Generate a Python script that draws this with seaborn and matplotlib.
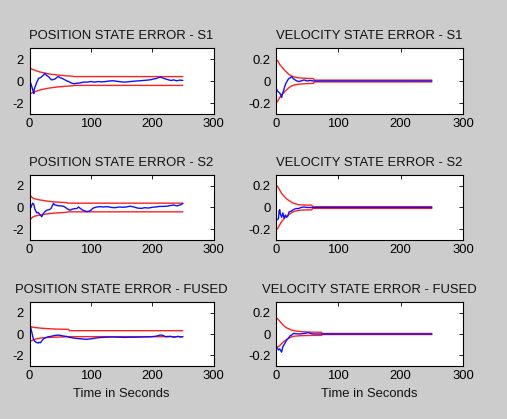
import numpy as np
import pandas as pd
import matplotlib
matplotlib.use("Agg")
import matplotlib.pyplot as plt
import seaborn as sns

sns.set_theme(style="white")
plt.rcParams["font.family"] = ["Liberation Sans", "DejaVu Sans"]
plt.rcParams["axes.unicode_minus"] = False

# ---------------- data ----------------
titles = ["POSITION STATE ERROR - S1", "VELOCITY STATE ERROR - S1",
          "POSITION STATE ERROR - S2", "VELOCITY STATE ERROR - S2",
          "POSITION STATE ERROR - FUSED", "VELOCITY STATE ERROR - FUSED"]
x_label = "Time in Seconds"
x_ticks = [0, 100, 200, 300]
pos_yticks = [-2, 0, 2]
vel_yticks = [-0.2, 0, 0.2]
pos_ytick_labels = ["-2", "0", "2"]
vel_ytick_labels = ["-0.2", "0", "0.2"]

# Position S1
pos_s1_bt = [0, 5, 10, 15, 20, 25, 30, 40, 50, 60, 70, 72, 250]
pos_s1_up = [1.2, 1.05, 0.95, 0.85, 0.78, 0.72, 0.66, 0.58, 0.52, 0.47, 0.44, 0.4, 0.4]
pos_s1_lo = [-1.2, -1.05, -0.95, -0.85, -0.78, -0.72, -0.66, -0.58, -0.52, -0.47, -0.44, -0.4, -0.4]
pos_s1_t = [0, 2, 4, 6, 7, 8, 10, 12, 15, 18, 20, 23, 25, 28, 31, 34, 36, 40, 42, 45, 47,
            50, 53, 56, 58, 61, 64, 67, 69, 73, 77, 82, 88, 94, 100, 106, 112, 118, 124,
            130, 137, 143, 150, 156, 162, 168, 174, 180, 186, 192, 198, 202, 206, 210,
            213, 217, 221, 224, 228, 232, 235, 240, 245, 250]
pos_s1_e = [0.1, -0.2, -0.55, -0.95, -1.15, -0.7, -0.4, -0.1, 0.25, 0.3, 0.4, 0.55, 0.7,
            0.5, 0.4, 0.2, 0.1, 0.15, 0.2, 0.35, 0.4, 0.3, 0.25, 0.15, 0.1, 0.0, -0.05,
            -0.15, -0.2, -0.25, -0.2, -0.18, -0.1, -0.1, -0.05, -0.1, -0.05, -0.08, -0.05,
            0.0, 0.02, -0.03, -0.08, -0.1, -0.06, -0.03, 0.0, 0.02, 0.05, 0.08, 0.12, 0.18,
            0.22, 0.3, 0.35, 0.28, 0.2, 0.15, 0.08, 0.05, 0.1, 0.02, 0.08, 0.05]

# Velocity S1
vel_s1_bt = [0, 3, 6, 9, 12, 15, 18, 21, 25, 30, 35, 40, 50, 60, 62, 250]
vel_s1_up = [0.2, 0.18, 0.15, 0.13, 0.11, 0.09, 0.075, 0.06, 0.045, 0.035, 0.03, 0.027,
             0.024, 0.022, 0.008, 0.008]
vel_s1_lo = [-0.2, -0.18, -0.15, -0.13, -0.11, -0.09, -0.075, -0.06, -0.045, -0.035, -0.03,
             -0.027, -0.024, -0.022, -0.008, -0.008]
vel_s1_t = [0, 2, 4, 6, 8, 9, 10, 12, 14, 16, 18, 20, 23, 25, 28, 32, 36, 40, 45, 50, 55,
            60, 65, 250]
vel_s1_e = [-0.06, -0.09, -0.1, -0.11, -0.13, -0.15, -0.12, -0.09, -0.05, -0.02, 0.0, 0.02,
            0.03, 0.04, 0.02, 0.005, -0.005, 0.0, 0.01, 0.0, 0.005, 0.0, 0.0, 0.0]

# Position S2
pos_s2_bt = [0, 3, 6, 10, 15, 20, 30, 40, 50, 60, 63, 250]
pos_s2_up = [1.2, 1.0, 0.85, 0.78, 0.72, 0.67, 0.58, 0.52, 0.48, 0.45, 0.4, 0.4]
pos_s2_lo = [-1.2, -1.0, -0.85, -0.78, -0.72, -0.67, -0.58, -0.52, -0.48, -0.45, -0.4, -0.4]
pos_s2_t = [0, 2, 5, 7, 9, 12, 14, 17, 20, 22, 25, 28, 32, 35, 39, 41, 44, 48, 52, 56, 60,
            64, 66, 70, 74, 77, 80, 83, 87, 90, 93, 97, 100, 104, 110, 115, 120, 127, 134,
            140, 146, 152, 158, 164, 170, 176, 182, 188, 194, 200, 206, 212, 218, 224, 230,
            235, 240, 244, 248, 250]
pos_s2_e = [0.1, -0.05, 0.4, 0.3, -0.2, -0.5, -0.45, -0.65, -0.85, -0.6, -0.4, -0.25, -0.2,
            -0.1, 0.38, 0.25, 0.2, 0.15, 0.15, 0.1, -0.05, -0.2, -0.25, -0.15, -0.1, -0.1,
            0.05, -0.1, -0.25, -0.3, -0.38, -0.35, -0.25, -0.05, 0.05, 0.08, 0.05, 0.08, 0.0,
            -0.02, 0.05, 0.02, 0.05, 0.12, 0.05, -0.05, -0.08, -0.02, -0.05, 0.02, 0.05, 0.1,
            0.1, 0.12, 0.18, 0.23, 0.15, 0.2, 0.3, 0.38]

# Velocity S2
vel_s2_bt = [0, 3, 6, 9, 12, 15, 18, 22, 26, 30, 35, 40, 50, 57, 59, 250]
vel_s2_up = [0.21, 0.19, 0.16, 0.13, 0.11, 0.09, 0.075, 0.06, 0.045, 0.035, 0.028, 0.024,
             0.022, 0.022, 0.008, 0.008]
vel_s2_lo = [-0.21, -0.19, -0.16, -0.13, -0.11, -0.09, -0.075, -0.06, -0.045, -0.035,
             -0.028, -0.024, -0.022, -0.022, -0.008, -0.008]
vel_s2_t = [0, 2, 4, 5, 6, 7, 9, 11, 13, 15, 17, 19, 21, 24, 28, 32, 36, 40, 45, 50, 60, 250]
vel_s2_e = [-0.1, -0.115, -0.1, -0.03, -0.02, -0.06, -0.09, -0.05, -0.1, -0.07, -0.09, -0.08,
            -0.04, -0.035, -0.02, -0.01, -0.01, 0.0, 0.005, 0.0, 0.0, 0.0]

# Position FUSED
pos_f_bt = [0, 3, 6, 10, 15, 20, 30, 40, 50, 60, 64, 65, 250]
pos_f_up = [0.75, 0.68, 0.63, 0.6, 0.57, 0.54, 0.5, 0.47, 0.45, 0.44, 0.43, 0.31, 0.31]
pos_f_lo = [-0.68, -0.63, -0.56, -0.48, -0.41, -0.36, -0.33, -0.3, -0.28, -0.27, -0.26,
            -0.25, -0.25]
pos_f_t = [0, 2, 4, 6, 8, 10, 12, 14, 16, 18, 20, 23, 26, 31, 35, 40, 47, 52, 56, 60, 66,
           72, 78, 85, 93, 100, 108, 115, 125, 135, 145, 155, 165, 175, 185, 195, 205, 210,
           213, 217, 222, 230, 236, 242, 246, 250]
pos_f_e = [0.7, 0.6, 0.1, -0.4, -0.65, -0.75, -0.8, -0.85, -0.78, -0.82, -0.65, -0.44, -0.35,
           -0.25, -0.22, -0.15, -0.1, -0.15, -0.2, -0.22, -0.32, -0.38, -0.42, -0.46, -0.5,
           -0.45, -0.38, -0.33, -0.3, -0.28, -0.3, -0.32, -0.3, -0.3, -0.28, -0.27, -0.22,
           -0.15, -0.1, -0.12, -0.25, -0.22, -0.3, -0.22, -0.28, -0.25]

# Velocity FUSED
vel_f_bt = [0, 3, 6, 9, 12, 15, 18, 22, 26, 30, 40, 50, 60, 73, 74, 250]
vel_f_up = [0.15, 0.14, 0.12, 0.1, 0.08, 0.065, 0.055, 0.045, 0.035, 0.03, 0.022, 0.019,
            0.017, 0.016, 0.005, 0.005]
vel_f_lo = [-0.13, -0.12, -0.11, -0.09, -0.073, -0.06, -0.048, -0.035, -0.025, -0.02,
            -0.016, -0.014, -0.013, -0.013, -0.005, -0.005]
vel_f_t = [0, 2, 4, 6, 8, 9, 11, 13, 15, 17, 19, 21, 23, 25, 28, 32, 38, 45, 52, 55, 60, 70,
           250]
vel_f_e = [-0.12, -0.13, -0.15, -0.14, -0.16, -0.17, -0.12, -0.1, -0.08, -0.057, -0.045,
           -0.03, -0.015, -0.01, 0.005, 0.003, 0.0, 0.005, 0.013, 0.005, 0.0, 0.0, 0.0]

panels = [
    (pos_s1_bt, pos_s1_up, pos_s1_lo, pos_s1_t, pos_s1_e, "pos"),
    (vel_s1_bt, vel_s1_up, vel_s1_lo, vel_s1_t, vel_s1_e, "vel"),
    (pos_s2_bt, pos_s2_up, pos_s2_lo, pos_s2_t, pos_s2_e, "pos"),
    (vel_s2_bt, vel_s2_up, vel_s2_lo, vel_s2_t, vel_s2_e, "vel"),
    (pos_f_bt, pos_f_up, pos_f_lo, pos_f_t, pos_f_e, "pos"),
    (vel_f_bt, vel_f_up, vel_f_lo, vel_f_t, vel_f_e, "vel"),
]

# ---------------- layout ----------------
W, H = 507, 419
fig = plt.figure(figsize=(W / 100, H / 100), dpi=100)
fig.patch.set_facecolor("#cccccc")

col_x = [29.5, 276]
col_w = [184, 187]
row_y = [(48, 114), (175, 240), (302, 366)]
FS = 9.4

for i, (bt, up, lo, t, e, kind) in enumerate(panels):
    r, c = divmod(i, 2)
    top, bot = row_y[r]
    ax = fig.add_axes([col_x[c] / W, 1 - bot / H, col_w[c] / W, (bot - top) / H])
    ax.set_facecolor("white")
    sns.lineplot(x=bt, y=up, ax=ax, color="#ff2020", lw=1.0, estimator=None, sort=False)
    sns.lineplot(x=bt, y=lo, ax=ax, color="#ff2020", lw=1.0, estimator=None, sort=False)
    sns.lineplot(x=t, y=e, ax=ax, color="#1010ff", lw=1.0, estimator=None, sort=False)
    ax.set_xlim(0, 300)
    ax.set_xticks(x_ticks)
    ax.set_xticklabels([str(v) for v in x_ticks])
    if kind == "pos":
        ax.set_ylim(-3, 3)
        ax.set_yticks(pos_yticks)
        ax.set_yticklabels(pos_ytick_labels)
    else:
        ax.set_ylim(-0.3, 0.3)
        ax.set_yticks(vel_yticks)
        ax.set_yticklabels(vel_ytick_labels)
    ax.tick_params(direction="in", top=True, right=True, length=3, width=0.6,
                   labelsize=FS, colors="black", pad=3)
    ax.tick_params(axis="y", pad=4)
    for s in ax.spines.values():
        s.set_color("black")
        s.set_linewidth(0.8)
        s.set_visible(True)
    ax.set_title(titles[i], fontsize=FS, pad=6.5, color="#111111")
    ax.set_ylabel("")
    if r == 2:
        ax.set_xlabel(x_label, fontsize=FS, labelpad=4.5, color="#111111")
    else:
        ax.set_xlabel("")

fig.savefig("out.png", dpi=100, facecolor=fig.get_facecolor())
